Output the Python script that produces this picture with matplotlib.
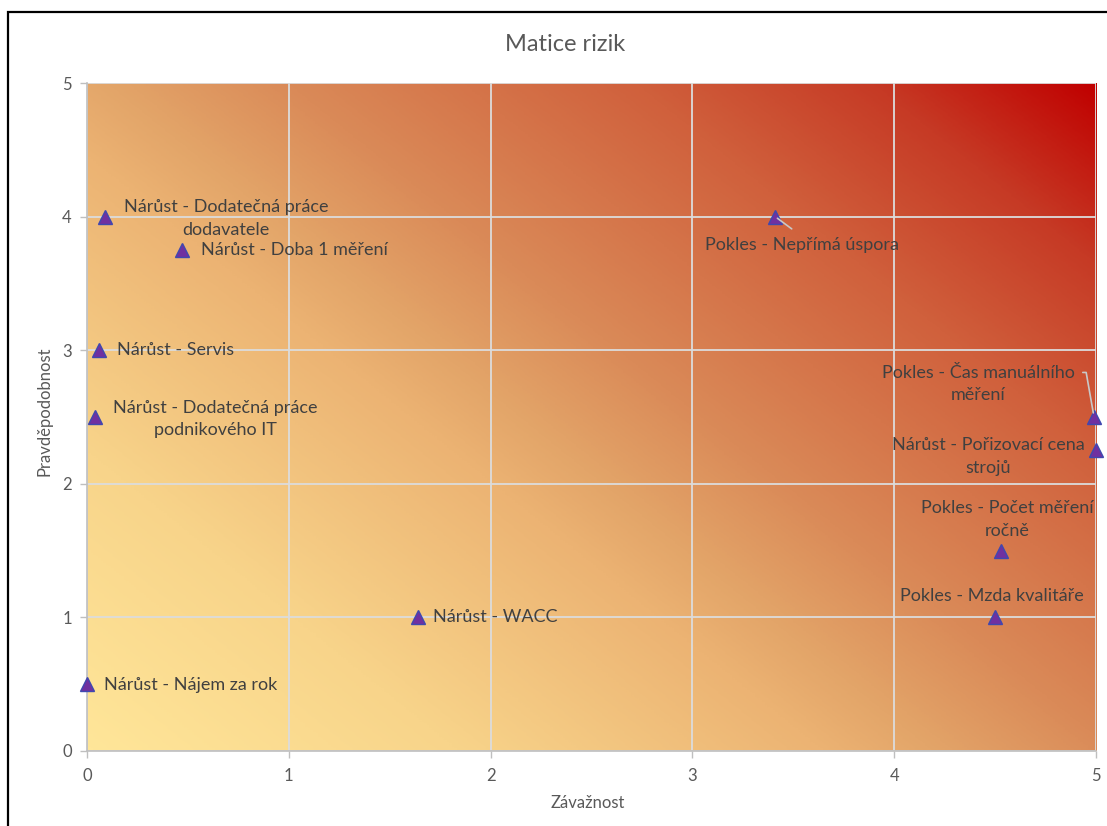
import numpy as np
import matplotlib
matplotlib.use("Agg")
import matplotlib.pyplot as plt
from matplotlib.colors import LinearSegmentedColormap
from matplotlib.patches import Rectangle

# Risk matrix: severity (x) vs. probability (y)
risk_names = [
    "Nárůst - Dodatečná práce\ndodavatele",
    "Nárůst - Doba 1 měření",
    "Nárůst - Servis",
    "Nárůst - Dodatečná práce\npodnikového IT",
    "Nárůst - WACC",
    "Nárůst - Nájem za rok",
    "Pokles - Nepřímá úspora",
    "Pokles - Čas manuálního\nměření",
    "Nárůst - Pořizovací cena\nstrojů",
    "Pokles - Počet měření\nročně",
    "Pokles - Mzda kvalitáře",
]
severity = [0.09, 0.47, 0.06, 0.04, 1.64, 0.0, 3.41, 4.99, 5.0, 4.53, 4.5]
probability = [4.0, 3.75, 3.0, 2.5, 1.0, 0.5, 4.0, 2.5, 2.25, 1.5, 1.0]
ticks = [0, 1, 2, 3, 4, 5]

# label offsets from each marker, in pixels
label_dx = [121, 113, 76, 120, 77, 104, 27, -116, -108, 6, -3]
label_dy = [-2, 0, 0, -2, 0, -1, -28, 33, -6, 31, 21]

plt.rcParams["font.family"] = ["Lato", "DejaVu Sans"]

fig = plt.figure(figsize=(11.07, 8.26), dpi=100)
ax = fig.add_axes([0.0786, 0.0908, 0.9115, 0.8087])

# diagonal gradient background, yellow -> red
cmap = LinearSegmentedColormap.from_list(
    "risk",
    [(0.0, "#FFE699"), (0.2, "#F8D48A"), (0.4, "#ECB373"), (0.46, "#E3A569"),
     (0.56, "#DA8A58"), (0.75, "#D0603C"), (0.88, "#C63A25"), (1.0, "#C00000")],
)
u, v = np.meshgrid(np.linspace(0, 1, 400), np.linspace(0, 1, 400))
ax.imshow(0.55 * u + 0.45 * v, cmap=cmap, origin="lower", extent=[0, 5, 0, 5],
          aspect="auto", zorder=0, interpolation="bilinear", vmin=0, vmax=1)

ax.set_xlim(0, 5)
ax.set_ylim(0, 5)
ax.set_xticks(ticks)
ax.set_yticks(ticks)
ax.set_axisbelow(True)
ax.grid(True, color="#DCDCDC", linewidth=1.3, zorder=0.5)
for side in ["top", "right"]:
    ax.spines[side].set_visible(False)
for side in ["left", "bottom"]:
    ax.spines[side].set_color("#BFBFBF")
    ax.spines[side].set_linewidth(1.2)
ax.tick_params(colors="#BFBFBF", labelcolor="#595959", labelsize=12, length=5, width=1)
ax.tick_params(axis="x", pad=7)
ax.tick_params(axis="y", pad=6)

ax.plot(severity, probability, linestyle="none", marker="^", markersize=10,
        markerfacecolor="#7030A0", markeredgecolor="#3F48B0", markeredgewidth=1,
        zorder=3, clip_on=False)

for i, name in enumerate(risk_names):
    arrow = None
    if i == 6:
        arrow = dict(arrowstyle="-", color="#C8C8C8", lw=1.2, relpos=(0.5, 1.0),
                     shrinkA=6, shrinkB=2)
    elif i == 7:
        arrow = dict(arrowstyle="-", color="#C8C8C8", lw=1.2, relpos=(1.0, 0.8),
                     shrinkA=4, shrinkB=3,
                     connectionstyle="angle,angleA=0,angleB=100,rad=0")
    ax.annotate(name, (severity[i], probability[i]),
                xytext=(label_dx[i], label_dy[i]), textcoords="offset pixels",
                ha="center", va="center", multialignment="center",
                fontsize=13, color="#404040", linespacing=1.5,
                arrowprops=arrow, zorder=4, annotation_clip=False)

fig.text(0.5104, 0.9467, "Matice rizik", ha="center", va="center",
         fontsize=17, color="#595959")
fig.text(0.531, 0.028, "Závažnost", ha="center", va="center",
         fontsize=12, color="#595959")
fig.text(0.040, 0.502, "Pravděpodobnost", ha="center", va="center",
         rotation=90, fontsize=12, color="#595959")

# chart frame
fig.patches.append(Rectangle((8 / 1107, -0.1), 1.2, 1 - 12 / 826 + 0.1,
                             transform=fig.transFigure, fill=False,
                             edgecolor="black", linewidth=1.6))

fig.savefig("out.png", dpi=100)
